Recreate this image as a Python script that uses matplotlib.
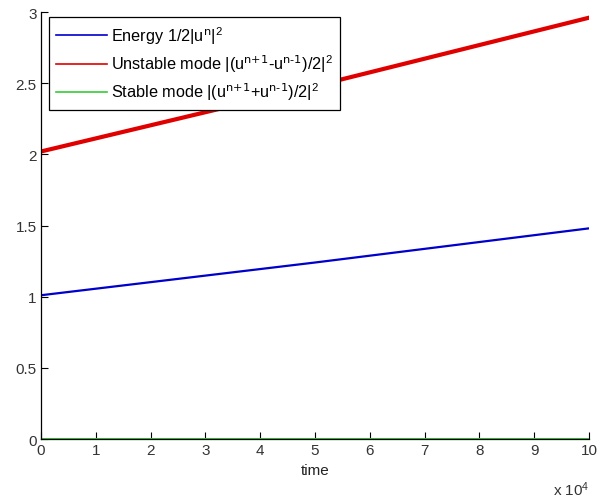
import matplotlib
matplotlib.use("Agg")
import matplotlib.pyplot as plt
from matplotlib.ticker import FuncFormatter

plt.rcParams["font.family"] = ["Liberation Sans", "DejaVu Sans"]
plt.rcParams["mathtext.default"] = "regular"

# sampled time (steps) and the three tracked quantities
time = [0, 25000, 50000, 75000, 100000]
energy = [1.01, 1.125, 1.24, 1.36, 1.48]
unstable = [2.02, 2.25, 2.48, 2.72, 2.96]
stable = [0.0, 0.0, 0.0, 0.0, 0.0]

labels = [
    r"Energy 1/2|u$^{\text{n}}$|$^{2}$",
    r"Unstable mode |(u$^{\text{n+1}}$-u$^{\text{n-1}}$)/2|$^{2}$",
    r"Stable mode |(u$^{\text{n+1}}$+u$^{\text{n-1}}$)/2|$^{2}$",
]

fig = plt.figure(figsize=(5.97, 5.02), dpi=100)
ax = fig.add_axes([0.0687, 0.1235, 0.918, 0.8506])

ax.plot(time, energy, color="#0000cc", lw=1.6, label=labels[0])
ax.plot(time, unstable, color="#e00000", lw=3.0, label=labels[1])
ax.plot(time, stable, color="#33cc33", lw=2.2, label=labels[2])

ax.set_xlim(0, 100000)
ax.set_ylim(0, 3)
ax.set_xticks(range(0, 100001, 10000))
ax.xaxis.set_major_formatter(FuncFormatter(lambda v, p: f"{v / 1e4:g}"))
ax.set_yticks([0, 0.5, 1, 1.5, 2, 2.5, 3])
ax.yaxis.set_major_formatter(FuncFormatter(lambda v, p: f"{v:g}"))
ax.tick_params(direction="in", length=5, width=0.8, labelsize=11,
               labelcolor="#333333", pad=3)
ax.spines["top"].set_visible(False)
ax.spines["right"].set_visible(False)
for s in ("left", "bottom"):
    ax.spines[s].set_linewidth(0.9)

ax.set_xlabel("time", fontsize=11, labelpad=4, color="#222222")
ax.text(1.0, -0.095, r"x 10$^{4}$", transform=ax.transAxes,
        ha="right", va="top", fontsize=11, color="#333333")

leg = ax.legend(loc="upper left", bbox_to_anchor=(0.0146, 0.9883),
                fontsize=11.7, handlelength=3.1, handletextpad=0.25,
                borderpad=0.45, labelspacing=0.4, borderaxespad=0,
                fancybox=False, framealpha=1, edgecolor="black")
leg.get_frame().set_linewidth(0.9)
for line in leg.get_lines():
    line.set_linewidth(1.2)

fig.savefig("out.png", dpi=100)
